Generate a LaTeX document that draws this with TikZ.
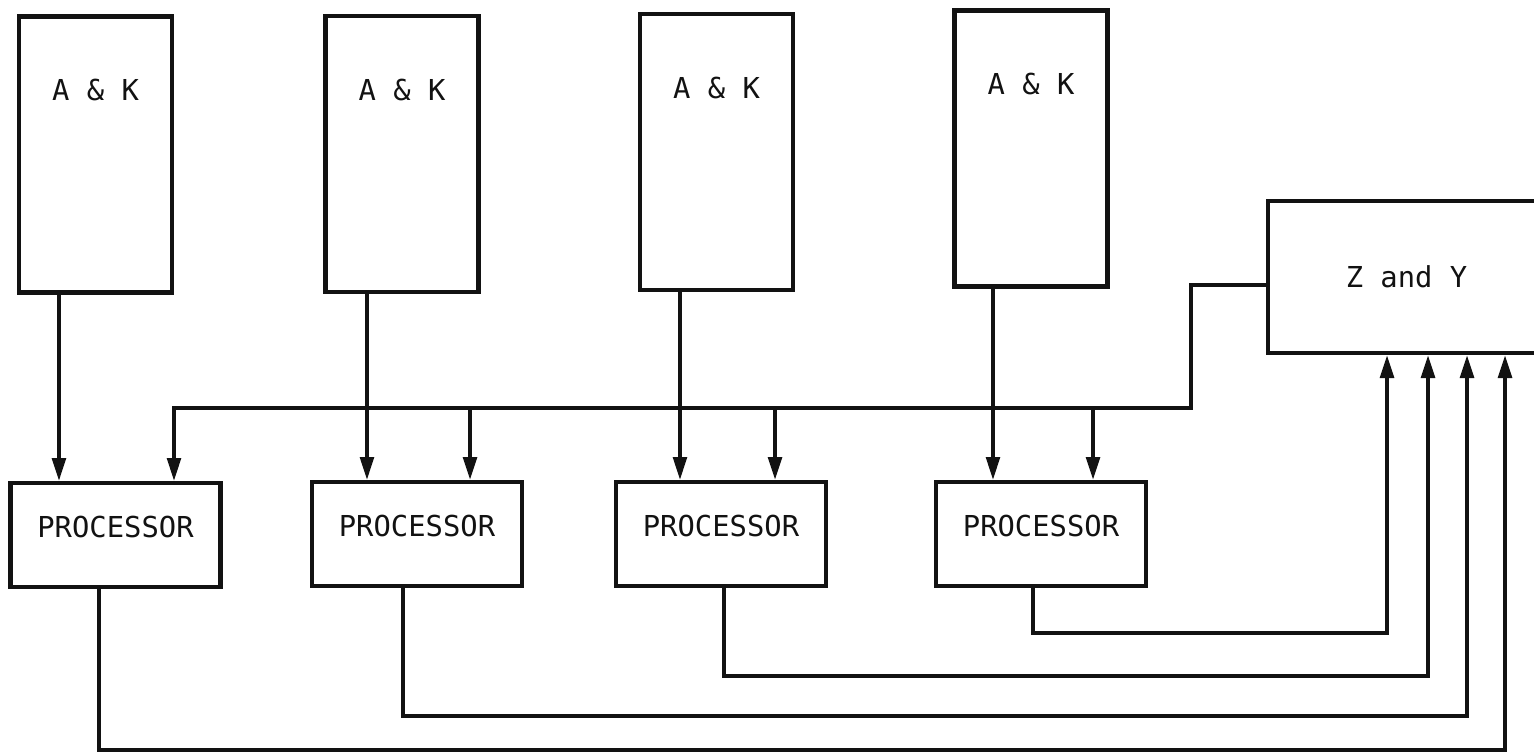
\documentclass[tikz,border=0pt]{standalone}
\usepackage{fontspec}
\setmonofont{DejaVu Sans Mono}
\usetikzlibrary{arrows.meta,calc}
\definecolor{inkline}{RGB}{18,18,18}

\begin{document}
\begin{tikzpicture}[
    x=0.01cm, y=-0.01cm,
    unitbox/.style={rectangle, draw=inkline, line width=1.2pt, text=inkline,
                 font=\fontsize{8.2}{9}\selectfont\ttfamily},
    akbox/.style={unitbox, minimum width=1.53cm, minimum height=2.76cm, text height=2mm, text depth=12.7mm},
    procbox/.style={unitbox, minimum width=2.1cm, minimum height=1.04cm, text height=2mm, text depth=1.6mm},
    zybox/.style={unitbox, minimum width=2.77cm, minimum height=1.52cm},
    arr/.style={-{Triangle[length=6.5pt,width=3.9pt]}, line width=1pt, inkline},
    wire/.style={line width=1pt, inkline}
]
\useasboundingbox (0,0) rectangle (1534,752);
\node[akbox] (ak1) at (95.5,154.5) {A \& K};
\node[akbox] (ak2) at (402,154) {A \& K};
\node[akbox] (ak3) at (716.5,152) {A \& K};
\node[akbox] (ak4) at (1031,148.5) {A \& K};
\node[procbox] (pr1) at (115.5,535) {PROCESSOR};
\node[procbox] (pr2) at (417,534) {PROCESSOR};
\node[procbox] (pr3) at (721,534) {PROCESSOR};
\node[procbox] (pr4) at (1041,534) {PROCESSOR};
\node[zybox] (zy) at (1406.5,277) {Z and Y};
\draw[arr] ([xshift=-3.65mm]ak1.south) -- ([xshift=-3.65mm]ak1.south |- pr1.north);
\draw[arr] ([xshift=-3.5mm]ak2.south) -- ([xshift=-3.5mm]ak2.south |- pr2.north);
\draw[arr] ([xshift=-3.65mm]ak3.south) -- ([xshift=-3.65mm]ak3.south |- pr3.north);
\draw[arr] ([xshift=-3.8mm]ak4.south) -- ([xshift=-3.8mm]ak4.south |- pr4.north);
\coordinate (busR) at (1191,408);
\coordinate (busL) at (174,408);
\draw[arr] ([yshift=-0.8mm]zy.west) -| (busR) -- (busL) -- (busL |- pr1.north);
\draw[arr] ([xshift=5.3mm]pr2.north |- busL) -- ([xshift=5.3mm]pr2.north);
\draw[arr] ([xshift=5.4mm]pr3.north |- busL) -- ([xshift=5.4mm]pr3.north);
\draw[arr] ([xshift=5.2mm]pr4.north |- busL) -- ([xshift=5.2mm]pr4.north);
\coordinate (ret4) at (1387,633);
\coordinate (ret3) at (1428,676);
\coordinate (ret2) at (1467,716);
\coordinate (ret1) at (1505,750);
\draw[arr] ([xshift=-0.8mm]pr4.south) |- (ret4) -- (ret4 |- zy.south);
\draw[arr] ([xshift=0.3mm]pr3.south) |- (ret3) -- (ret3 |- zy.south);
\draw[arr] ([xshift=-1.4mm]pr2.south) |- (ret2) -- (ret2 |- zy.south);
\draw[arr] ([xshift=-1.65mm]pr1.south) |- (ret1) -- (ret1 |- zy.south);
\end{tikzpicture}
\end{document}
